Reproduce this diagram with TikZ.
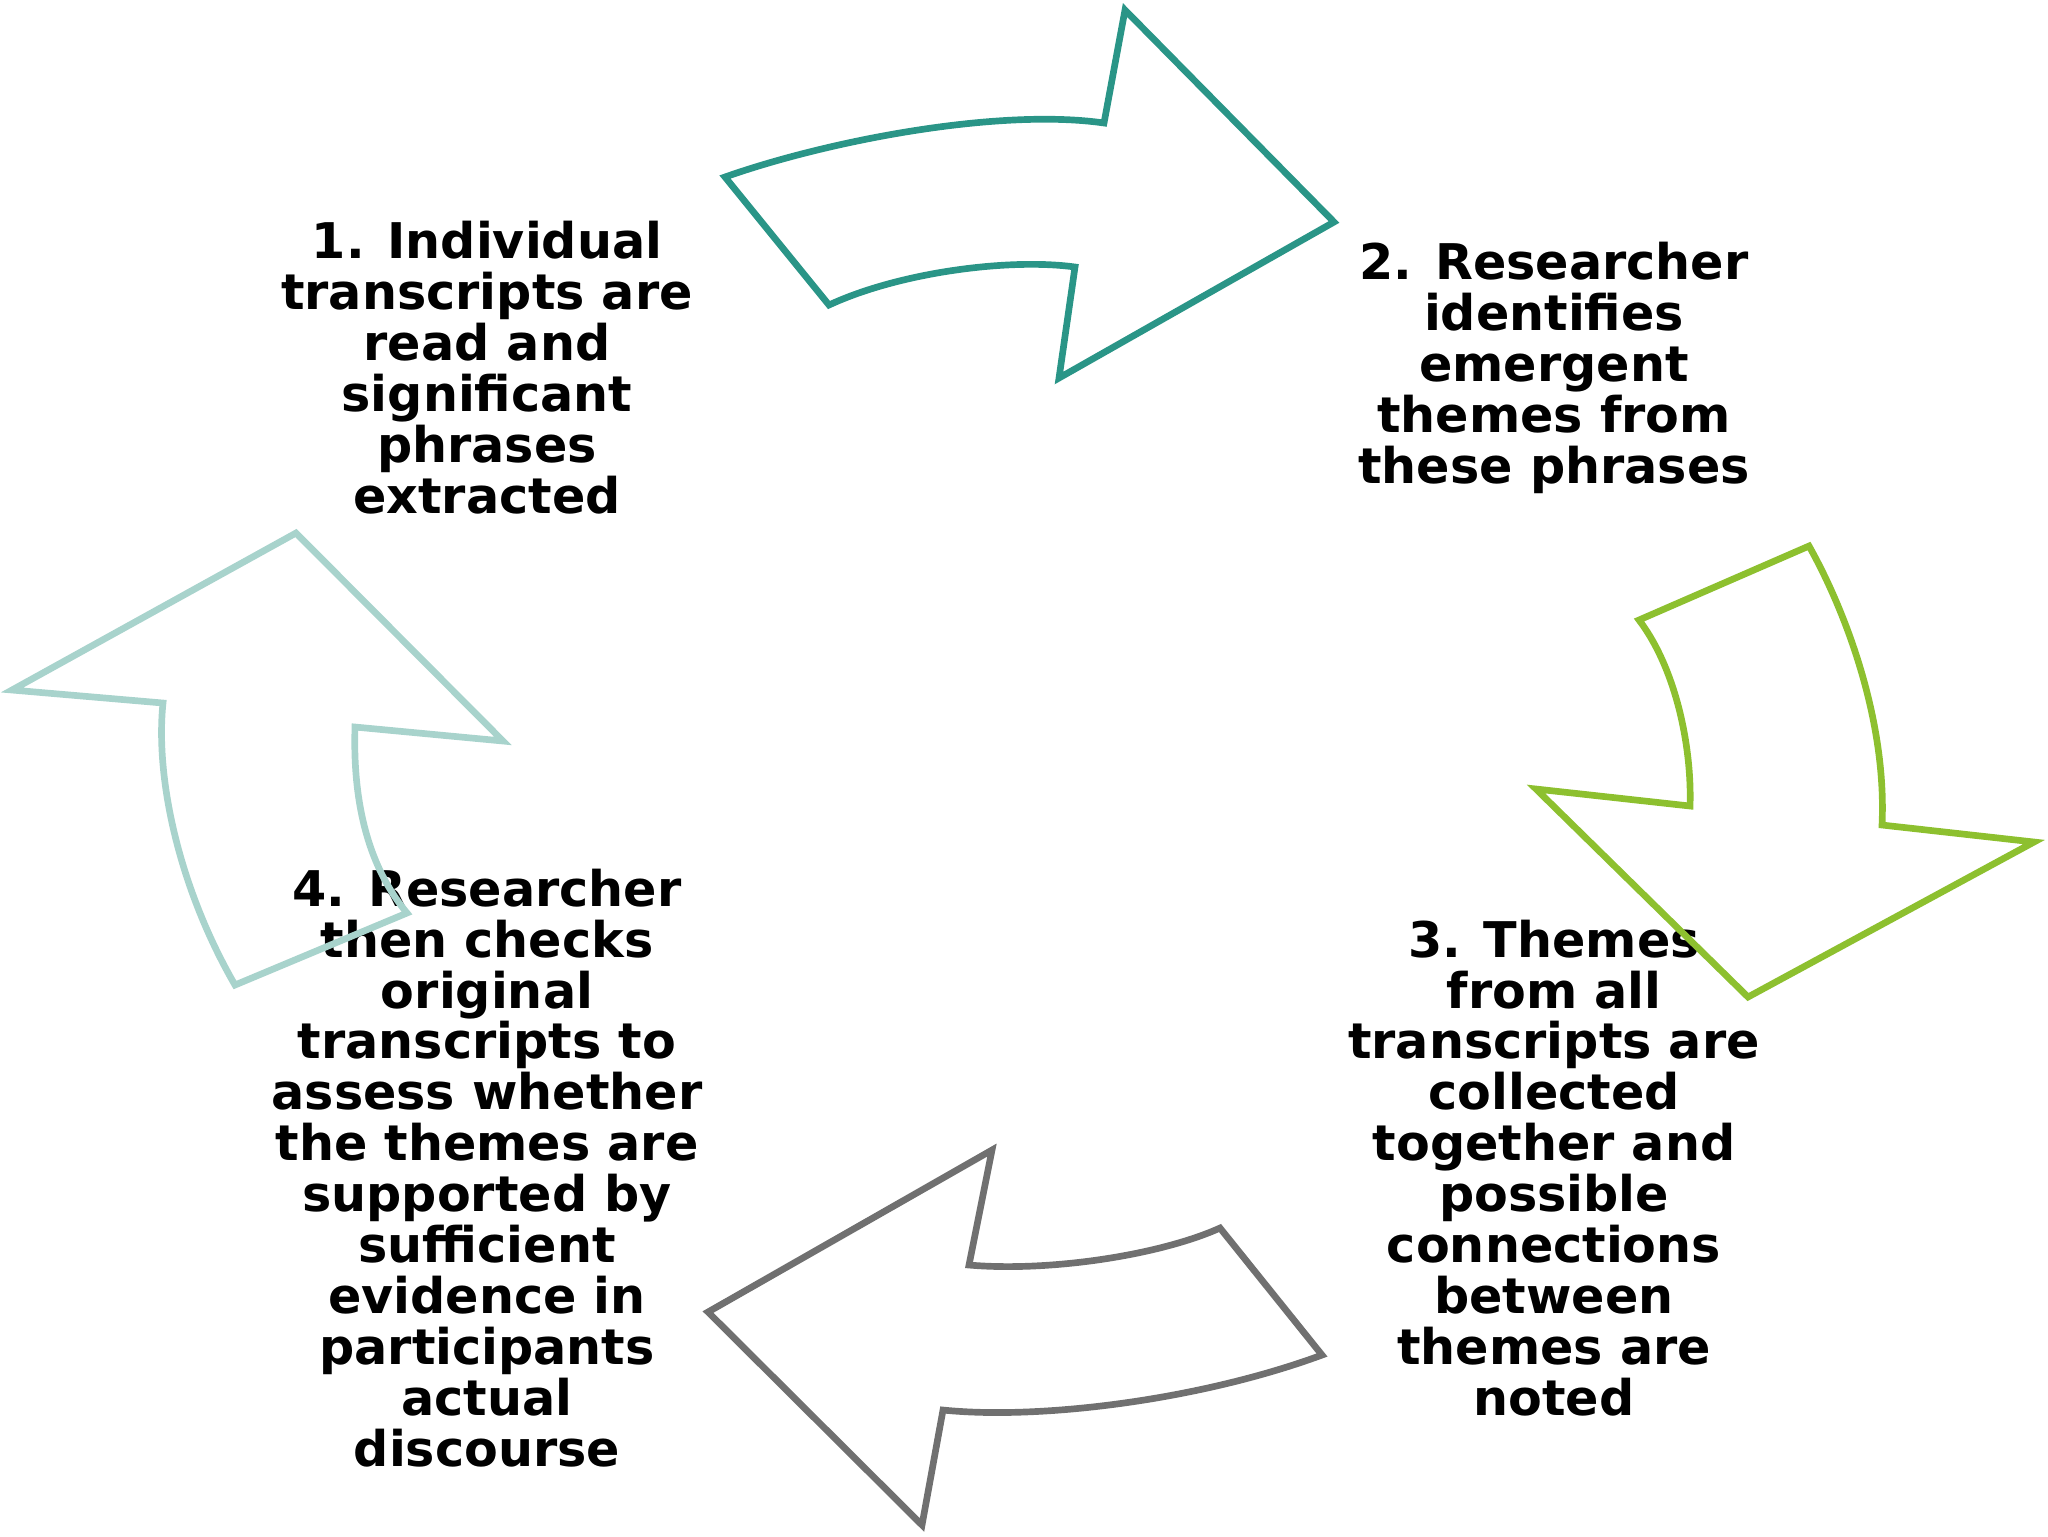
\documentclass[tikz,border=0pt]{standalone}
\usepackage{fontspec}
\setmainfont{DejaVu Sans}
\usepackage{tikz}
\usetikzlibrary{positioning}

\definecolor{tealarrow}{HTML}{2A9587}
\definecolor{greenarrow}{HTML}{8DC02F}
\definecolor{grayarrow}{HTML}{707070}
\definecolor{palearrow}{HTML}{A8D3CC}

\begin{document}
\begin{tikzpicture}[x=0.1mm,y=-0.1mm]
  \tikzstyle{stage}=[align=center,inner sep=0pt,font=\fontsize{14}{14.5}\selectfont\bfseries]
  \tikzstyle{bigarrow}=[line width=1.9pt,line join=miter]

  \useasboundingbox (0,0) rectangle (2048,1536);

  % Stage texts
  \node[stage] (extract) at (487,368) {1. Individual\\transcripts are\\read and\\significant\\phrases\\extracted};
  \node[stage] (identify) at (1554,368) {2. Researcher\\identifies\\emergent\\themes from\\these phrases};
  \node[stage] (collect) at (1554,1168) {3. Themes\\from all\\transcripts are\\collected\\together and\\possible\\connections\\between\\themes are\\noted};
  \node[stage] (check) at (487,1168) {4. Researcher\\then checks\\original\\transcripts to\\assess whether\\the themes are\\supported by\\sufficient\\evidence in\\participants\\actual\\discourse};

  % Arrow 1 -> 2 (top)
  \draw[bigarrow,draw=tealarrow] (725,177) .. controls (830,140) and (1000,108) .. (1104,123)
    -- (1125,10) -- (1334,222) -- (1059,378) -- (1075,267)
    .. controls (1010,258) and (900,272) .. (829,305) -- cycle;

  % Arrow 2 -> 3 (right)
  \draw[bigarrow,draw=greenarrow] (1639,620) -- (1809,546)
    .. controls (1845,610) and (1887,720) .. (1882,825)
    -- (2034,842) -- (1748,997) -- (1536,789) -- (1690,806)
    .. controls (1692,750) and (1677,670) .. cycle;

  % Arrow 3 -> 4 (bottom)
  \draw[bigarrow,draw=grayarrow] (1220,1228) .. controls (1160,1255) and (1050,1272) .. (969,1265)
    -- (992,1150) -- (708,1312) -- (922,1525) -- (943,1410)
    .. controls (1040,1420) and (1200,1400) .. (1322,1355) -- cycle;

  % Arrow 4 -> 1 (left)
  \draw[bigarrow,draw=palearrow] (296,533) -- (503,741) -- (355,727)
    .. controls (353,790) and (363,860) .. (407,913)
    -- (235,985) .. controls (180,890) and (155,780) .. (163,703)
    -- (12,690) -- cycle;

\end{tikzpicture}
\end{document}
